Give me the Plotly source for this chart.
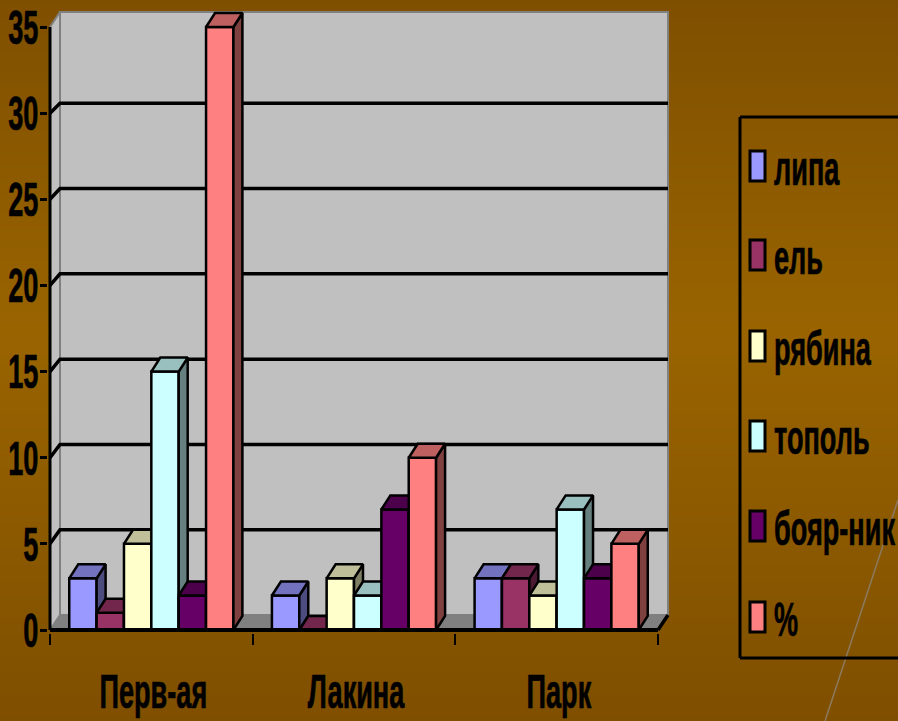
import plotly.graph_objects as go

W, H = 898, 721
categories = ["Перв-ая", "Лакина", "Парк"]
series_names = ["липа", "ель", "рябина", "тополь", "бояр-ник", "%"]
lipa = [3, 2, 3]
el = [1, 0, 3]
ryabina = [5, 3, 2]
topol = [15, 2, 7]
boyarnik = [2, 7, 3]
percent = [35, 10, 5]
all_values = [lipa, el, ryabina, topol, boyarnik, percent]
y_ticks = [0, 5, 10, 15, 20, 25, 30, 35]
grid_values = [5, 10, 15, 20, 25, 30]
colors = ["#9999FF", "#993366", "#FFFFCC", "#CCFFFF", "#660066", "#FF8080"]

FONT = "Liberation Sans, Arial, sans-serif"
X0, X1, Y0, Y35 = 50, 658, 630, 27      # pixel frame of the value axes
UX = (X1 - X0) / 3.0                    # px per category
UY = (Y0 - Y35) / 35.0                  # px per value unit
WALL_DX, WALL_DY = 10 / UX, 15 / UY
BAR_DX, BAR_DY = 9 / UX, 14 / UY
BAR_W = 0.135
BACK_SCALE = 0.99
EDGE = 2.5
positions = list(range(len(categories)))
# the plot area is a little larger than the front frame, so the depth faces fit inside it
PAD_L, PAD_R, PAD_B, PAD_T = 2, 14, 3, 19


def shade(hex_color, k):
    r, g, b = (int(hex_color[i:i + 2], 16) for i in (1, 3, 5))
    return f"rgb({int(r * k)},{int(g * k)},{int(b * k)})"


def px(x):
    return x / W


def py(y):
    return 1 - y / H


fig = go.Figure()

# back wall, side wall and floor (base subplot, drawn first)
L, R = -0.5, 2.5
fig.add_trace(go.Scatter(
    x=[L, L + WALL_DX, L + WALL_DX, L, L], y=[0, WALL_DY, 35 + WALL_DY, 35, 0],
    mode="lines", fill="toself", fillcolor="#C0C0C0", line=dict(color="#808080", width=2),
    hoverinfo="skip", showlegend=False))
fig.add_trace(go.Scatter(
    x=[L + WALL_DX, R + WALL_DX, R + WALL_DX, L + WALL_DX, L + WALL_DX],
    y=[WALL_DY, WALL_DY, 35 + WALL_DY, 35 + WALL_DY, WALL_DY],
    mode="lines", fill="toself", fillcolor="#C0C0C0", line=dict(color="#808080", width=2),
    hoverinfo="skip", showlegend=False))
fig.add_trace(go.Scatter(
    x=[L, L + WALL_DX, R + WALL_DX, R, L], y=[0, WALL_DY, WALL_DY, 0, 0],
    mode="lines", fill="toself", fillcolor="#808080", line=dict(color="#808080", width=1),
    hoverinfo="skip", showlegend=False))

# gridlines with their slanted lead-ins
gx, gy = [], []
for v in grid_values:
    gy_back = WALL_DY + v * BACK_SCALE
    gx += [L, L + WALL_DX, R + WALL_DX, None]
    gy += [v, gy_back, gy_back, None]
gx += [R, R + WALL_DX, None]
gy += [0, WALL_DY, None]
fig.add_trace(go.Scatter(x=gx, y=gy, mode="lines", line=dict(color="black", width=3.5),
                         hoverinfo="skip", showlegend=False))
# the value axis line (front edge)
fig.add_trace(go.Scatter(x=[L, L], y=[0, 35], mode="lines", line=dict(color="black", width=3),
                         hoverinfo="skip", showlegend=False))

# one overlaid y axis per series so that they paint left to right
layout_axes = {}
for i, (name, vals, col) in enumerate(zip(series_names, all_values, colors)):
    ya = f"y{i + 2}"
    layout_axes[f"yaxis{i + 2}"] = dict(overlaying="y", matches="y", visible=False)
    off = -0.405 + i * BAR_W
    sx, sy, tx, ty = [], [], [], []
    for c, v in zip(positions, vals):
        xl = c + off
        xr = xl + BAR_W
        sx += [xr, xr + BAR_DX, xr + BAR_DX, xr, xr, None]
        sy += [0, BAR_DY, v + BAR_DY, v, 0, None]
        tx += [xl, xr, xr + BAR_DX, xl + BAR_DX, xl, None]
        ty += [v, v, v + BAR_DY, v + BAR_DY, v, None]
    fig.add_trace(go.Bar(x=positions, y=vals, name=name, yaxis=ya, width=BAR_W, offset=off,
                         marker=dict(color=col, line=dict(color="black", width=EDGE)),
                         showlegend=False))
    fig.add_trace(go.Scatter(x=sx, y=sy, yaxis=ya, mode="lines", fill="toself",
                             fillcolor=shade(col, 0.5), line=dict(color="black", width=EDGE),
                             hoverinfo="skip", showlegend=False))
    fig.add_trace(go.Scatter(x=tx, y=ty, yaxis=ya, mode="lines", fill="toself",
                             fillcolor=shade(col, 0.75), line=dict(color="black", width=EDGE),
                             hoverinfo="skip", showlegend=False))

# horizontal axis line on top of the bars' feet
fig.add_trace(go.Scatter(x=[L, R], y=[0, 0], yaxis="y8", mode="lines",
                         line=dict(color="black", width=4), hoverinfo="skip", showlegend=False))
layout_axes["yaxis8"] = dict(overlaying="y", matches="y", visible=False)

# page background gradient + decoration + legend frame
shapes = []
bands = 120
PEAK = 330.0
top, mid = (0x7F, 0x4F, 0x00), (0x99, 0x64, 0x00)
for b in range(bands):
    y_a, y_b = b * H / bands, (b + 1) * H / bands + 0.5
    yc = (y_a + y_b) / 2
    t = yc / PEAK if yc < PEAK else (H - yc) / (H - PEAK)
    c = tuple(round(top[j] + (mid[j] - top[j]) * t) for j in range(3))
    shapes.append(dict(type="rect", xref="paper", yref="paper", x0=0, x1=1, y0=py(y_b), y1=py(y_a),
                       fillcolor=f"rgb{c}", line=dict(width=0), layer="below"))
shapes.append(dict(type="line", xref="paper", yref="paper", x0=px(898), y0=py(500), x1=px(825), y1=py(721),
                   line=dict(color="#8C7A60", width=1.5), layer="above"))
for xa, ya_, xb, yb in [(740, 117, 740, 658), (740, 117, 898, 117), (740, 658, 898, 658)]:
    shapes.append(dict(type="line", xref="paper", yref="paper", x0=px(xa), y0=py(ya_), x1=px(xb), y1=py(yb),
                       line=dict(color="black", width=3), layer="above"))

legend_centres = [166, 255, 346, 436, 526, 617]
annotations = []
for name, col, yc in zip(series_names, colors, legend_centres):
    shapes.append(dict(type="rect", xref="paper", yref="paper", x0=px(750), x1=px(765),
                       y0=py(yc + 15), y1=py(yc - 15), fillcolor=col,
                       line=dict(color="black", width=3), layer="above"))
    annotations.append(dict(xref="paper", yref="paper", x=px(772), y=py(yc + 2), text=f"<b>{name}</b>",
                            showarrow=False, xanchor="left", yanchor="middle",
                            font=dict(family=FONT, size=48, color="black")))

fig.update_layout(
    width=W, height=H, autosize=False,
    margin=dict(l=0, r=0, t=0, b=0, pad=0, autoexpand=False),
    paper_bgcolor="#8A5A00", plot_bgcolor="rgba(0,0,0,0)",
    barmode="overlay", showlegend=False,
    shapes=shapes, annotations=annotations,
    font=dict(family=FONT, color="black"),
    xaxis=dict(range=[L - PAD_L / UX, R + PAD_R / UX], domain=[px(X0 - PAD_L), px(X1 + PAD_R)], anchor="y",
               tickmode="array", tickvals=[p + 0.01 for p in positions], ticktext=categories,
               showgrid=False, zeroline=False, showline=False,
               ticks="", ticklabelstandoff=26,
               minor=dict(tickmode="array", tickvals=[L, 0.5, 1.5, R], ticks="outside",
                          ticklen=11, tickwidth=2, tickcolor="black", showgrid=False),
               tickfont=dict(family=FONT, size=48, color="black", weight="bold")),
    yaxis=dict(range=[-PAD_B / UY, 35 + PAD_T / UY], domain=[py(Y0 + PAD_B), py(Y35 - PAD_T)], anchor="x",
               tickmode="array", tickvals=y_ticks, ticktext=[str(v) for v in y_ticks],
               showgrid=False, zeroline=False, showline=False,
               ticks="outside", ticklen=7, tickwidth=3, tickcolor="black", ticklabelstandoff=-8,
               tickfont=dict(family=FONT, size=48, color="black", weight="bold")),
    **layout_axes,
)

# the reference lettering is a tall condensed face: narrow the real text elements in place
POST = """
document.body.style.margin='0';
var K=0.565;
function squeeze(sel,mode){document.querySelectorAll(sel).forEach(function(t){
  var b=t.getBBox();var cx=mode==='l'?b.x:(mode==='r'?b.x+b.width:b.x+b.width/2);
  var old=t.getAttribute('transform')||'';
  t.setAttribute('transform',old+' translate('+cx+',0) scale('+K+',1) translate('+(-cx)+',0)');
  t.style.stroke='black';t.style.strokeWidth='0.7px';
});}
squeeze('.xtick text','c');squeeze('.ytick text','r');squeeze('.annotation-text','l');
"""
fig.write_html("out.html", post_script=POST, config={"displayModeBar": False})
